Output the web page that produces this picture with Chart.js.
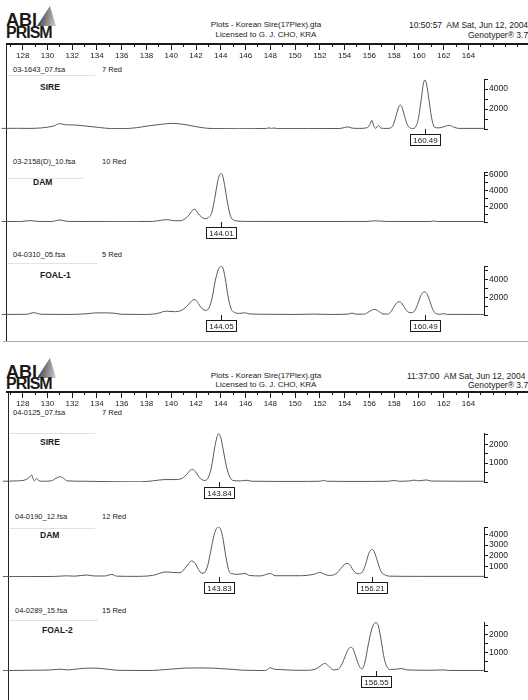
<!DOCTYPE html>
<html>
<head>
<meta charset="utf-8">
<script src="https://cdn.jsdelivr.net/npm/chart.js@4/dist/chart.umd.min.js"></script>
<style>
body { margin: 0; background: #fff; width: 528px; height: 700px; overflow: hidden; position: relative;
       font-family: "Liberation Sans", Arial, sans-serif; color: #1a1a1a; }
canvas { position: absolute; left: 0; }
.t { position: absolute; white-space: pre; line-height: 1; font-size: 8px; }
.f { font-size: 7.5px; }
.n { font-size: 8.5px; font-weight: bold; }
.c { text-align: center; width: 220px; left: 156px; }
.abi { position: absolute; left: 6px; font-weight: bold; font-size: 18px; line-height: 1; }
.prism { position: absolute; left: 6px; font-weight: bold; font-size: 16px; line-height: 1; letter-spacing: -1px; }
.tri { position: absolute; left: 37px; width: 19px; height: 20px;
       clip-path: polygon(68% 0, 100% 100%, 0 100%);
       background: linear-gradient(100deg, #2a2a2a 0%, #777 45%, #d0d0d0 100%); }
.vl { position: absolute; width: 1px; background: #222; }
.hl { position: absolute; height: 1px; }
</style>
</head>
<body>

<!-- plot 1 header -->
<div class="tri" style="top:6px"></div>
<div class="abi" style="top:10.6px">ABI</div>
<div class="prism" style="top:24.9px">PRISM</div>
<div class="t c" style="top:21px">Plots - Korean Sire(17Plex).gta</div>
<div class="t c" style="top:31px">Licensed to G. J. CHO, KRA</div>
<div class="t" style="top:21px;left:409px;font-size:8.5px">10:50:57  AM Sat, Jun 12, 2004</div>
<div class="t" style="top:31px;left:468px;font-size:8.5px">Genotyper® 3.7</div>

<div class="t f" style="top:66.3px;left:13px">03-1643_07.fsa</div>
<div class="t f" style="top:66.3px;left:102px">7 Red</div>
<div class="t n" style="top:82.5px;left:40px">SIRE</div>
<div class="t f" style="top:158.3px;left:13px">03-2158(D)_10.fsa</div>
<div class="t f" style="top:158.3px;left:102px">10 Red</div>
<div class="t n" style="top:177.8px;left:33px">DAM</div>
<div class="t f" style="top:251.3px;left:13px">04-0310_05.fsa</div>
<div class="t f" style="top:251.3px;left:102px">5 Red</div>
<div class="t n" style="top:270.8px;left:40px">FOAL-1</div>

<div class="vl" style="left:6px;top:43px;height:298px"></div>
<div class="hl" style="left:3px;top:341px;width:525px;background:#a8a8a8"></div>
<div class="hl" style="left:8px;top:75px;width:87px;background:#e2e2e2"></div>
<div class="hl" style="left:8px;top:178px;width:75px;background:#e2e2e2"></div>
<div class="hl" style="left:8px;top:263px;width:89px;background:#e2e2e2"></div>

<!-- plot 2 header -->
<div class="tri" style="top:358px"></div>
<div class="abi" style="top:362.6px">ABI</div>
<div class="prism" style="top:375.9px">PRISM</div>
<div class="t c" style="top:372px">Plots - Korean Sire(17Plex).gta</div>
<div class="t c" style="top:381px">Licensed to G. J. CHO, KRA</div>
<div class="t" style="top:372px;left:407px;font-size:8.5px">11:37:00  AM Sat, Jun 12, 2004</div>
<div class="t" style="top:381px;left:468px;font-size:8.5px">Genotyper® 3.7</div>

<div class="t f" style="top:409.3px;left:13px">04-0125_07.fsa</div>
<div class="t f" style="top:409.3px;left:102px">7 Red</div>
<div class="t n" style="top:437.5px;left:40px">SIRE</div>
<div class="t f" style="top:513px;left:15px">04-0190_12.fsa</div>
<div class="t f" style="top:513px;left:102px">12 Red</div>
<div class="t n" style="top:530.8px;left:40px">DAM</div>
<div class="t f" style="top:607.3px;left:15px">04-0289_15.fsa</div>
<div class="t f" style="top:607.3px;left:102px">15 Red</div>
<div class="t n" style="top:625.8px;left:42px">FOAL-2</div>

<div class="vl" style="left:8px;top:391px;height:309px"></div>
<div class="hl" style="left:10px;top:433px;width:85px;background:#e2e2e2"></div>
<div class="hl" style="left:10px;top:528px;width:85px;background:#e2e2e2"></div>
<div class="hl" style="left:10px;top:620px;width:88px;background:#e2e2e2"></div>

<script>
// size axis (bp) shared by all panels
const X_MIN = 126.17, X_MAX = 165.26, RULER_MAX = 168.81;
const FONT = '"Liberation Sans", Arial, sans-serif';

const rulerLabels = [128, 130, 132, 134, 136, 138, 140, 142, 144, 146, 148, 150, 152, 154, 156, 158, 160, 162, 164];

// plot 1 - SIRE
const sire1Trace = [
  [126.3, 60], [127.5, 70], [128.6, 60], [129.6, 120], [130.5, 300], [131.0, 540], [131.4, 430], [132.2, 400],
  [133.2, 280], [134.2, 150], [135.2, 40], [136.2, 40], [137.2, 130], [138.2, 320], [139.2, 470], [140.0, 560],
  [140.8, 500], [141.6, 330], [142.4, 150], [143.4, 40], [145.5, 30], [147.7, 60], [147.9, 110], [148.1, 60],
  [148.3, 100], [148.6, 40], [151.0, 40], [153.6, 50], [154.0, 150], [154.25, 210], [154.6, 90], [155.2, 60],
  [155.8, 120], [156.05, 450], [156.2, 870], [156.35, 350], [156.5, 60], [156.75, 360], [156.95, 80], [157.35, 60],
  [157.7, 90], [157.95, 480], [158.2, 1500], [158.38, 2230], [158.5, 2400], [158.62, 2230], [158.8, 1500],
  [159.05, 480], [159.3, 90], [159.5, 50], [159.7, 150], [159.95, 980], [160.2, 3040], [160.37, 4560],
  [160.49, 4900], [160.61, 4560], [160.8, 3040], [161.05, 980], [161.3, 150], [161.6, 110], [162.0, 220],
  [162.45, 370], [162.8, 200], [163.2, 60], [165.25, 60]
];
const sire1Calls = [160.49];
const sire1Marks = [0, 1000, 2000, 3000, 4000, 5000];
const sire1Ticks = [2000, 4000];

// plot 1 - DAM
const dam1Trace = [
  [126.3, 60], [127.8, 60], [128.6, 180], [129.2, 80], [130.3, 60], [131.0, 260], [131.6, 80], [133.5, 60],
  [136.0, 50], [138.5, 80], [139.3, 250], [139.7, 300], [140.2, 170], [140.7, 160], [141.0, 300], [141.3, 650],
  [141.55, 1150], [141.72, 1520], [141.86, 1630], [142.0, 1500], [142.2, 1050], [142.45, 620], [142.7, 430],
  [142.95, 520], [143.25, 1100], [143.5, 2900], [143.75, 5200], [143.9, 6050], [144.01, 6200], [144.12, 6050],
  [144.3, 4800], [144.55, 2400], [144.8, 700], [145.05, 250], [145.4, 120], [146.0, 80], [150.0, 60],
  [155.8, 70], [156.4, 150], [156.9, 120], [157.4, 70], [160.9, 60], [161.2, 130], [161.5, 60], [165.25, 60]
];
const dam1Calls = [144.01];
const dam1Marks = [0, 1000, 2000, 3000, 4000, 5000, 6000, 6400];
const dam1Ticks = [2000, 4000, 6000];

// plot 1 - FOAL-1
const foal1Trace = [
  [126.3, 60], [128.3, 80], [128.9, 260], [129.5, 80], [131.5, 60], [133.2, 140], [133.8, 230], [134.6, 240],
  [135.4, 200], [136.0, 80], [137.5, 60], [138.8, 150], [139.6, 430], [140.2, 380], [140.8, 500], [141.2, 900],
  [141.5, 1350], [141.7, 1650], [141.86, 1740], [142.0, 1650], [142.25, 1150], [142.5, 700], [142.8, 520],
  [143.05, 800], [143.3, 1900], [143.55, 3800], [143.8, 5100], [143.93, 5400], [144.05, 5440], [144.17, 5300],
  [144.35, 4200], [144.6, 2000], [144.85, 650], [145.1, 300], [145.5, 180], [146.0, 250], [146.3, 120],
  [148.0, 80], [150.0, 60], [151.5, 100], [153.0, 60], [154.3, 100], [154.6, 220], [154.9, 90], [155.6, 100],
  [155.9, 300], [156.2, 560], [156.46, 630], [156.75, 420], [157.1, 120], [157.4, 100], [157.7, 280],
  [157.95, 850], [158.2, 1350], [158.4, 1480], [158.6, 1350], [158.85, 800], [159.15, 330], [159.4, 260],
  [159.65, 450], [159.9, 1200], [160.15, 2150], [160.35, 2550], [160.49, 2590], [160.65, 2400], [160.85, 1700],
  [161.1, 700], [161.35, 180], [161.7, 80], [162.0, 150], [162.3, 70], [165.25, 60]
];
const foal1Calls = [144.05, 160.49];
const foal1Marks = [0, 1000, 2000, 3000, 4000, 5000, 5500];
const foal1Ticks = [2000, 4000];

// plot 2 - SIRE
const sire2Trace = [
  [126.4, 40], [127.5, 60], [128.2, 110], [128.55, 250], [128.73, 370], [128.85, 160], [128.95, 60], [129.13, 190],
  [129.3, 70], [129.6, 40], [130.3, 60], [130.7, 200], [131.0, 280], [131.3, 200], [131.6, 60], [133.0, 40],
  [135.0, 20], [136.5, 10], [137.5, 10], [138.5, 60], [139.5, 130], [140.3, 130], [140.9, 200], [141.3, 450],
  [141.55, 630], [141.73, 670], [141.95, 560], [142.2, 300], [142.5, 120], [142.75, 80], [143.0, 250],
  [143.25, 800], [143.5, 1800], [143.7, 2400], [143.84, 2560], [143.98, 2400], [144.2, 1700], [144.45, 850],
  [144.7, 300], [145.0, 80], [145.6, 60], [146.1, 90], [146.5, 40], [150.0, 30], [152.0, 40], [152.3, 80],
  [152.6, 40], [155.0, 30], [157.5, 40], [158.0, 80], [158.4, 40], [159.3, 60], [159.6, 100], [160.0, 60],
  [160.6, 110], [161.0, 50], [165.25, 40]
];
const sire2Calls = [143.84];
const sire2Marks = [0, 500, 1000, 1500, 2000, 2500];
const sire2Ticks = [1000, 2000];

// plot 2 - DAM
const dam2Trace = [
  [126.4, 40], [128.5, 40], [130.5, 50], [131.55, 110], [132.2, 80], [133.2, 190], [133.7, 100], [134.6, 90],
  [135.2, 240], [135.6, 80], [137.0, 60], [138.5, 150], [139.6, 480], [140.2, 420], [140.7, 400], [141.1, 800],
  [141.4, 1250], [141.62, 1500], [141.75, 1480], [141.95, 1250], [142.2, 700], [142.46, 360], [142.7, 420],
  [142.95, 1100], [143.2, 2500], [143.45, 3900], [143.65, 4550], [143.83, 4700], [143.98, 4500], [144.15, 3800],
  [144.4, 2000], [144.65, 600], [144.9, 320], [145.3, 250], [145.96, 330], [146.3, 150], [147.2, 100],
  [148.0, 330], [148.4, 120], [150.5, 120], [151.5, 250], [152.0, 430], [152.5, 200], [152.8, 150], [153.3, 300],
  [153.7, 800], [154.0, 1200], [154.2, 1280], [154.45, 1100], [154.75, 550], [155.1, 300], [155.45, 500],
  [155.7, 1200], [155.95, 2200], [156.1, 2520], [156.24, 2590], [156.4, 2350], [156.65, 1500], [156.95, 500],
  [157.3, 180], [157.6, 80], [160.0, 60], [165.25, 60]
];
const dam2Calls = [143.83, 156.21];
const dam2Marks = [0, 1000, 2000, 3000, 4000, 4700];
const dam2Ticks = [1000, 2000, 3000, 4000];

// plot 2 - FOAL-2
const foal2Trace = [
  [126.4, 20], [128.5, 40], [130.3, 60], [131.1, 100], [131.6, 60], [132.5, 120], [133.4, 160], [134.3, 140],
  [135.0, 90], [135.6, 40], [137.0, 30], [138.5, 30], [139.5, 80], [140.5, 130], [141.1, 160], [142.3, 170],
  [143.3, 160], [144.2, 120], [145.0, 90], [145.6, 50], [147.0, 30], [147.6, 20], [147.85, 120], [148.0, 180],
  [148.3, 100], [148.8, 80], [150.0, 40], [151.0, 40], [151.7, 120], [152.1, 300], [152.4, 420], [152.7, 280],
  [153.1, 60], [153.5, 100], [153.8, 400], [154.1, 900], [154.3, 1200], [154.5, 1310], [154.7, 1200],
  [154.95, 700], [155.2, 250], [155.4, 110], [155.65, 500], [155.9, 1400], [156.15, 2200], [156.35, 2580],
  [156.55, 2660], [156.72, 2500], [156.95, 1700], [157.2, 700], [157.45, 200], [157.7, 80], [158.2, 100],
  [158.6, 140], [159.0, 60], [161.0, 40], [162.0, 60], [162.4, 30], [165.25, 30]
];
const foal2Calls = [156.55];
const foal2Marks = [0, 500, 1000, 1500, 2000, 2500];
const foal2Ticks = [1000, 2000];

function addCanvas(top, height) {
  const c = document.createElement('canvas');
  c.width = 528;
  c.height = height;
  c.style.top = top + 'px';
  document.body.appendChild(c);
  return c;
}

// thick line on top of the size ruler
const rulerLine = {
  id: 'rulerLine',
  afterDraw(chart) {
    const ctx = chart.ctx;
    ctx.save();
    ctx.fillStyle = '#1a1a1a';
    ctx.fillRect(6, chart.chartArea.top - 1, 522, 2);
    ctx.restore();
  }
};

// boxed allele calls under the baseline
function callBoxes(calls) {
  return {
    id: 'callBoxes',
    afterDraw(chart) {
      const ctx = chart.ctx;
      const base = Math.round(chart.chartArea.bottom);
      ctx.save();
      ctx.font = '8px ' + FONT;
      ctx.textAlign = 'center';
      ctx.textBaseline = 'middle';
      ctx.strokeStyle = '#1a1a1a';
      ctx.lineWidth = 1;
      calls.forEach(v => {
        const px = Math.round(chart.scales.x.getPixelForValue(v)) + 0.5;
        ctx.beginPath();
        ctx.moveTo(px, base);
        ctx.lineTo(px, base + 5);
        ctx.stroke();
        ctx.fillStyle = '#fff';
        ctx.fillRect(px - 15, base + 5.5, 30, 11);
        ctx.strokeRect(px - 15, base + 5.5, 30, 11);
        ctx.fillStyle = '#1a1a1a';
        ctx.fillText(v.toFixed(2), px, base + 11.5);
      });
      ctx.restore();
    }
  };
}

function rulerChart(top) {
  const c = addCanvas(top - 4, 21);
  new Chart(c, {
    type: 'line',
    data: { datasets: [] },
    options: {
      responsive: false,
      animation: false,
      events: [],
      layout: { padding: { top: 4, left: 0, right: 0, bottom: 0 } },
      plugins: { legend: { display: false }, tooltip: { enabled: false } },
      scales: {
        x: {
          type: 'linear',
          min: X_MIN,
          max: RULER_MAX,
          afterFit: s => { s.height = 14; },
          border: { display: false },
          grid: {
            color: '#1a1a1a',
            lineWidth: 1,
            tickLength: 3,
            tickColor: ctx => rulerLabels.includes(ctx.tick.value) ? '#1a1a1a' : 'rgba(0,0,0,0)'
          },
          ticks: {
            stepSize: 1,
            autoSkip: false,
            maxRotation: 0,
            includeBounds: false,
            padding: 1,
            color: '#1a1a1a',
            font: { size: 8, family: FONT },
            callback: v => rulerLabels.includes(v) ? String(v) : ''
          }
        },
        y: { display: false }
      }
    },
    plugins: [rulerLine]
  });
}

function panelChart(p) {
  const padTop = 8, padBottom = 24;
  const c = addCanvas(p.top - padTop, p.bottom - p.top + padTop + padBottom);
  new Chart(c, {
    type: 'line',
    data: {
      datasets: [{
        data: p.trace.map(([x, y]) => ({ x, y })),
        borderColor: '#585858',
        borderWidth: 1,
        pointRadius: 0,
        fill: false,
        cubicInterpolationMode: 'monotone'
      }]
    },
    options: {
      responsive: false,
      animation: false,
      events: [],
      layout: { padding: { top: padTop, bottom: padBottom, left: 0, right: 0 } },
      plugins: { legend: { display: false }, tooltip: { enabled: false } },
      scales: {
        x: { type: 'linear', display: false, min: X_MIN, max: X_MAX },
        y: {
          position: 'right',
          min: 0,
          max: p.max,
          afterBuildTicks: s => { s.ticks = p.marks.map(v => ({ value: v })); },
          afterFit: s => { s.width = 44; },
          border: { display: true, color: '#1a1a1a', width: 1 },
          grid: { drawOnChartArea: false, tickLength: 4, color: '#1a1a1a' },
          ticks: {
            autoSkip: false,
            padding: 1,
            color: '#1a1a1a',
            font: { size: 8.5, family: FONT },
            callback: v => p.labels.includes(v) ? String(v) : ''
          }
        }
      }
    },
    plugins: [callBoxes(p.calls)]
  });
}

rulerChart(44);
panelChart({ top: 79, bottom: 129, max: 5000, trace: sire1Trace, calls: sire1Calls, marks: sire1Marks, labels: sire1Ticks });
panelChart({ top: 172, bottom: 222, max: 6400, trace: dam1Trace, calls: dam1Calls, marks: dam1Marks, labels: dam1Ticks });
panelChart({ top: 266, bottom: 315, max: 5500, trace: foal1Trace, calls: foal1Calls, marks: foal1Marks, labels: foal1Ticks });

rulerChart(392);
panelChart({ top: 433, bottom: 482, max: 2600, trace: sire2Trace, calls: sire2Calls, marks: sire2Marks, labels: sire2Ticks });
panelChart({ top: 527, bottom: 577, max: 4700, trace: dam2Trace, calls: dam2Calls, marks: dam2Marks, labels: dam2Ticks });
panelChart({ top: 622, bottom: 671, max: 2700, trace: foal2Trace, calls: foal2Calls, marks: foal2Marks, labels: foal2Ticks });
</script>
</body>
</html>
